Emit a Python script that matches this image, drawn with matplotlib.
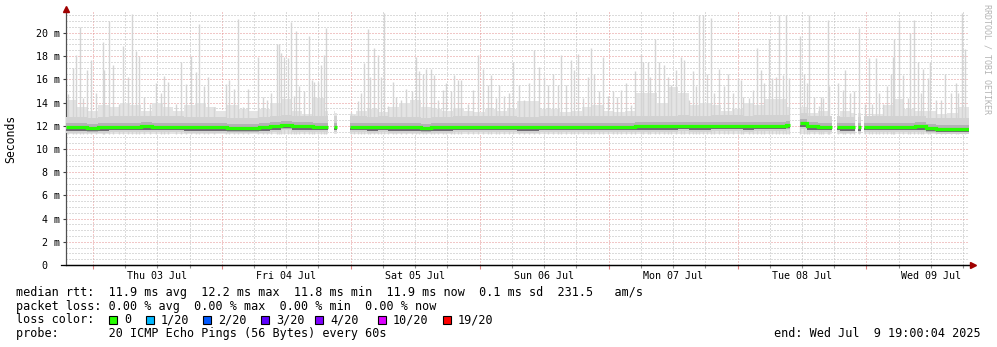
import numpy as np
import matplotlib
matplotlib.use('Agg')
import matplotlib.pyplot as plt
from matplotlib.ticker import FixedLocator, FuncFormatter, NullFormatter

# ---------------- data ----------------
# x axis: hours since Wed Jul 2 19:00 (window of 7 days ending Jul 9 19:00)
span_h = 168
midnight_h = [5, 29, 53, 77, 101, 125, 149]
day_labels = ['Thu 03 Jul', 'Fri 04 Jul', 'Sat 05 Jul', 'Sun 06 Jul',
              'Mon 07 Jul', 'Tue 08 Jul', 'Wed 09 Jul']
y_ticks_ms = [0, 2, 4, 6, 8, 10, 12, 14, 16, 18, 20]
y_tick_labels = ['0  ', '2 m', '4 m', '6 m', '8 m', '10 m', '12 m',
                 '14 m', '16 m', '18 m', '20 m']

# median rtt (ms), 2-hour bins
median_ms = [
    11.85, 11.85, 11.8, 11.85, 11.9, 11.9, 11.9, 11.95, 11.9, 11.9, 11.9, 11.85,
    11.85, 11.85, 11.85, 11.8, 11.8, 11.8, 11.85, 11.95, 12.05, 11.95, 11.95, 11.9,
    11.9, 11.9, 11.9, 11.9, 11.85, 11.9, 11.85, 11.85, 11.85, 11.8, 11.85, 11.85,
    11.9, 11.9, 11.9, 11.9, 11.9, 11.9, 11.85, 11.85, 11.9, 11.9, 11.9, 11.9,
    11.9, 11.9, 11.9, 11.9, 11.9, 11.95, 11.95, 11.95, 11.95, 12.0, 11.95, 11.95,
    12.0, 12.0, 12.0, 11.95, 12.0, 12.0, 12.0, 12.05, 12.2, 11.95, 11.9, 11.9,
    11.85, 11.85, 11.9, 11.9, 11.9, 11.9, 11.9, 11.95, 11.8, 11.75, 11.75, 11.75,
]
# upper edge of the light smoke mass (ms), 2-hour bins
body_ms = [
    14.2, 13.6, 13.3, 13.8, 13.6, 14.0, 13.8, 13.3, 14.0, 13.6, 13.3, 13.8,
    14.0, 13.6, 13.3, 13.8, 13.4, 13.3, 13.4, 14.0, 14.3, 13.3, 13.0, 14.4,
    13.3, 13.1, 13.0, 13.3, 13.4, 13.2, 13.6, 14.0, 14.2, 13.6, 13.4, 13.3,
    13.5, 13.3, 13.2, 13.4, 13.3, 13.4, 14.1, 14.1, 13.4, 13.4, 13.2, 13.3,
    13.6, 13.8, 13.3, 13.2, 13.3, 14.8, 14.8, 14.0, 15.3, 14.8, 13.8, 14.0,
    13.8, 13.3, 13.4, 14.0, 13.8, 14.3, 14.3, 13.6, 13.6, 13.1, 13.3, 12.8,
    13.3, 13.1, 12.8, 13.0, 13.8, 14.3, 13.4, 13.3, 13.3, 13.0, 13.1, 13.6,
]
# individual high ping spikes: time (h) and value (ms)
spike_h = [
    0.4, 1.3, 1.9, 2.6, 3.2, 3.9, 4.6, 5.6, 6.9, 7.1, 8.0, 8.7, 9.9, 10.6, 11.5,
    12.3, 13.0, 13.6, 14.5, 15.6, 16.7, 17.7, 18.2, 19.0, 20.5, 21.4, 22.3, 23.3,
    24.2, 24.7, 25.7, 26.4, 27.5, 29.8, 30.3, 31.3, 32.0, 32.9, 33.9, 35.7, 36.7,
    37.4, 38.1, 39.3, 39.6, 40.0, 40.6, 41.3, 41.9, 42.4, 42.8, 43.3, 44.3, 45.2,
    45.8, 46.1, 46.9, 47.4, 48.0, 48.4, 53.0, 53.6, 54.3, 54.9, 55.4, 56.2, 56.6,
    57.3, 58.0, 58.6, 59.2, 59.9, 60.8, 61.4, 62.3, 63.3, 64.4, 65.1, 65.7, 66.4,
    67.0, 67.9, 68.5, 69.2, 70.1, 70.7, 71.6, 72.2, 72.9, 73.5, 74.8, 75.7, 76.7,
    77.6, 78.5, 79.1, 80.0, 80.6, 81.5, 82.4, 83.3, 84.3, 85.2, 86.1, 87.1, 88.0,
    88.9, 89.7, 90.6, 91.5, 92.1, 93.0, 94.0, 94.5, 95.3, 96.2, 97.1, 97.7, 98.2,
    99.2, 99.9, 100.8, 101.8, 102.5, 103.3, 104.2, 105.1, 106.0, 107.0, 107.5,
    108.3, 108.8, 109.6, 110.3, 111.3, 112.0, 112.6, 113.5, 114.4, 115.0, 115.9,
    116.7, 117.2, 117.8, 118.5, 119.4, 120.0, 120.7, 121.5, 122.4, 123.3, 124.1,
    125.0, 125.6, 126.1, 127.1, 127.8, 128.7, 129.3, 129.9, 130.8, 131.5, 132.1,
    132.7, 133.4, 134.0, 134.5, 136.7, 137.3, 138.0, 138.4, 139.2, 140.1, 140.5,
    141.0, 141.8, 142.1, 143.8, 144.6, 145.1, 146.0, 146.6, 147.6, 148.8, 149.4,
    150.1, 150.7, 151.3, 152.0, 152.9, 153.5, 153.9, 154.2, 155.0, 155.9, 156.7,
    157.2, 157.8, 158.6, 159.1, 159.6, 160.4, 160.9, 161.9, 162.8, 163.6, 164.7,
    165.6, 166.1, 166.7, 167.3,
]
spike_ms = [
    14.7, 17.0, 18.1, 20.5, 14.4, 16.8, 17.7, 14.8, 19.2, 16.8, 21.0, 17.2, 13.9, 18.9, 16.2,
    21.6, 18.4, 18.0, 14.5, 13.9, 15.7, 14.8, 16.3, 15.8, 13.9, 17.5, 15.6, 18.0,
    16.6, 20.8, 15.4, 16.2, 13.6, 15.6, 15.9, 15.2, 21.2, 13.6, 15.2, 17.9, 14.5,
    14.2, 14.8, 19.0, 19.0, 18.3, 17.9, 17.8, 20.9, 14.6, 20.2, 15.4, 15.0, 19.7,
    15.9, 15.8, 15.8, 17.2, 18.1, 20.4, 13.2, 12.9, 14.1, 14.8, 17.4, 20.3, 16.2,
    18.7, 18.1, 16.2, 21.7, 13.7, 15.8, 14.5, 14.2, 15.2, 15.0, 17.9, 16.7, 16.5,
    16.9, 16.9, 16.4, 14.2, 15.1, 15.7, 15.0, 16.4, 15.9, 15.9, 13.9, 15.1, 18.1,
    16.9, 15.5, 16.4, 14.4, 15.5, 14.6, 14.8, 17.5, 15.5, 14.2, 15.7, 18.5, 17.1,
    16.2, 15.5, 16.5, 15.5, 18.1, 15.5, 17.7, 16.8, 18.2, 14.4, 16.2, 18.7, 16.5,
    15.0, 17.9, 14.6, 15.0, 14.5, 15.1, 15.7, 13.8, 16.7, 18.2, 17.5,
    17.5, 16.2, 19.5, 17.5, 17.2, 16.2, 15.5, 16.8, 17.9, 17.7, 14.2,
    16.7, 15.4, 21.5, 21.5, 16.5, 21.3, 14.8, 16.9, 15.4, 16.5, 14.8,
    16.1, 15.9, 14.5, 14.4, 15.1, 18.7, 16.8, 15.7, 19.5, 16.1, 16.2,
    21.5, 16.4, 21.5, 16.1, 19.7, 16.5, 15.7, 21.5, 14.5, 13.7, 14.5,
    14.4, 21.1, 15.4, 15.7, 15.1, 16.8, 14.8, 15.0, 20.4, 13.9, 17.8,
    13.9, 17.8, 14.8, 13.9, 15.4, 16.5, 17.9, 19.5, 21.1, 16.4, 14.4,
    20.0, 21.1, 17.5, 14.8, 16.9, 16.1, 17.5, 14.2, 14.2, 16.5, 14.8,
    15.7, 14.8, 21.7, 18.6,
]
# periods without data (h)
gaps = [(48.7, 49.9), (50.4, 52.8), (134.7, 136.6), (142.5, 143.6),
        (146.8, 147.5), (147.9, 148.6)]

loss_labels = ['0', '1/20', '2/20', '3/20', '4/20', '10/20', '19/20']
loss_colors = ['#26ff00', '#00b8ff', '#0059ff', '#5e00ff', '#7e00ff', '#dd00ff', '#ff0000']

rtt_avg, rtt_max, rtt_min, rtt_now, rtt_sd, am_s = 11.9, 12.2, 11.8, 11.9, 0.1, 231.5
loss_avg, loss_max, loss_min, loss_now = 0.00, 0.00, 0.00, 0.00
probe_text = '20 ICMP Echo Pings (56 Bytes) every 60s'
end_text = 'end: Wed Jul  9 19:00:04 2025'

# ---------------- figure ----------------
W, H = 997, 347
fig = plt.figure(figsize=(W / 100, H / 100), dpi=100)
fig.patch.set_facecolor('white')
L, R, T, B = 66, 968.5, 12, 265
ax = fig.add_axes([L / W, 1 - B / H, (R - L) / W, (B - T) / H])
ax.set_xlim(0, span_h)
ax.set_ylim(0, 21.8)
ax.set_facecolor('white')

mono = 'DejaVu Sans Mono'

# data segments (complement of gaps)
segments = []
cur = 0.0
for a, b in gaps:
    segments.append((cur, a))
    cur = b
segments.append((cur, span_h))


def clip_bins(vals, step, a, b):
    inner = [k * step for k in range(int(a // step) + 1, int(np.ceil(b / step)))]
    edges = np.array([a] + inner + [b])
    mids = (edges[:-1] + edges[1:]) / 2
    v = np.array([vals[min(int(m // step), len(vals) - 1)] for m in mids])
    return edges, v


def in_gap(h):
    return any(a <= h <= b for a, b in gaps)


def ext(v):
    return np.append(v, v[-1])


smoke_low = 11.3
for a, b in segments:
    e, med = clip_bins(median_ms, 2, a, b)
    _, body = clip_bins(body_ms, 2, a, b)
    ax.fill_between(e, smoke_low, ext(body), step='post',
                    color='#e4e4e4', lw=0, zorder=2)
    ax.fill_between(e, ext(med) - 0.45, ext(med) + 0.9,
                    step='post', color='#d2d2d2', lw=0, zorder=3)
    ax.fill_between(e, ext(med) - 0.3, ext(med) + 0.35,
                    step='post', color='#b4b2b6', lw=0, zorder=3.5)
    ax.fill_between(e, ext(med) - 0.28, ext(med) - 0.1,
                    step='post', color='#6e6a72', lw=0, zorder=4)

sh = np.array(spike_h)
sv = np.array(spike_ms)
keep = np.array([not in_gap(h) for h in sh])
ax.vlines(sh[keep], smoke_low, sv[keep], color='#d4d4d4', lw=1.0, zorder=2.5)

for a, b in segments:
    e, med = clip_bins(median_ms, 2, a, b)
    ax.stairs(med, e, baseline=None, color=loss_colors[0], lw=2.3, zorder=5)

# ---------------- axes / grid ----------------
for s in ['top', 'right']:
    ax.spines[s].set_visible(False)
ax.spines['left'].set_color('#505050')
ax.spines['left'].set_linewidth(0.9)
ax.spines['bottom'].set_color('#000000')
ax.spines['bottom'].set_linewidth(0.9)

ax.yaxis.set_major_locator(FixedLocator(y_ticks_ms))
ax.set_yticklabels(y_tick_labels)
ax.yaxis.set_minor_locator(FixedLocator(np.arange(0, 21.8, 0.5)))
ax.yaxis.set_minor_formatter(NullFormatter())

ax.xaxis.set_major_locator(FixedLocator(midnight_h))
ax.xaxis.set_major_formatter(NullFormatter())
ax.xaxis.set_minor_locator(FixedLocator(np.arange(5, span_h + 0.1, 6)))
noon_map = {m + 12: lab for m, lab in zip(midnight_h, day_labels)}
ax.xaxis.set_minor_formatter(FuncFormatter(lambda v, p: noon_map.get(int(round(v)), '')))

ax.tick_params(axis='x', which='major', length=3, width=0.8, color='#e08080', pad=2)
ax.tick_params(axis='x', which='minor', length=2.5, width=0.8, color='#909090',
               pad=1.5, labelsize=7.2)
ax.tick_params(axis='y', which='major', length=2.5, width=0.8, color='#404040',
               pad=2, labelsize=7.2)
ax.tick_params(axis='y', which='minor', length=0)
for lab in ax.get_xticklabels(minor=True) + ax.get_yticklabels():
    lab.set_fontfamily(mono)

ax.set_axisbelow(True)
ax.grid(which='minor', color='#b8b8b8', linestyle=(0, (1, 2)), lw=0.72, zorder=0)
ax.grid(which='major', color='#e49090', linestyle=(0, (1, 2)), lw=0.72, zorder=0)

# axis arrows
ax.plot([0, 0], [1.0, 1.012], transform=ax.transAxes, color='#505050', lw=0.9, clip_on=False)
ax.plot([0], [1.012], marker='^', ms=4.5, color='#a00000', transform=ax.transAxes,
        clip_on=False, zorder=10)
ax.plot([-0.005, 1.004], [0, 0], transform=ax.transAxes, color='black', lw=0.9, clip_on=False)
ax.plot([1.005], [0], marker='>', ms=4.5, color='#a00000', transform=ax.transAxes,
        clip_on=False, zorder=10)

# y label
fig.text(11 / W, 1 - 139 / H, 'Seconds', rotation=90, ha='center', va='center',
         fontsize=8.3, family=mono, color='black')
# side credit
fig.text(987 / W, 1 - 4 / H, 'RRDTOOL / TOBI OETIKER', rotation=270, ha='center',
         va='top', fontsize=6, family=mono, color='#b4b4b4')

# ---------------- legend text ----------------
fs = 8.5
x0 = 16 / W
line1 = (f'median rtt:  {rtt_avg:.1f} ms avg  {rtt_max:.1f} ms max  '
         f'{rtt_min:.1f} ms min  {rtt_now:.1f} ms now  {rtt_sd:.1f} ms sd  '
         f'{am_s:.1f}   am/s')
line2 = (f'packet loss: {loss_avg:.2f} % avg  {loss_max:.2f} % max  '
         f'{loss_min:.2f} % min  {loss_now:.2f} % now')
fig.text(x0, 1 - 296 / H, line1, fontsize=fs, family=mono, va='baseline')
fig.text(x0, 1 - 309.7 / H, line2, fontsize=fs, family=mono, va='baseline')
fig.text(x0, 1 - 323.4 / H, 'loss color:', fontsize=fs, family=mono, va='baseline')
fig.text(x0, 1 - 337 / H, 'probe:       ' + probe_text, fontsize=fs, family=mono,
         va='baseline')
fig.text(981 / W, 1 - 337 / H, end_text, fontsize=fs, family=mono, va='baseline',
         ha='right')

box_x = [109, 146, 203, 261, 315, 378, 443]
for bx, col, lab in zip(box_x, loss_colors, loss_labels):
    fig.patches.append(plt.Rectangle((bx / W, 1 - 324 / H), 8 / W, 8.5 / H,
                                     transform=fig.transFigure, facecolor=col,
                                     edgecolor='black', lw=0.8))
    fig.text((bx + 15) / W, 1 - 323.4 / H, lab, fontsize=fs, family=mono, va='baseline')

fig.savefig('out.png', dpi=100, facecolor='white')
